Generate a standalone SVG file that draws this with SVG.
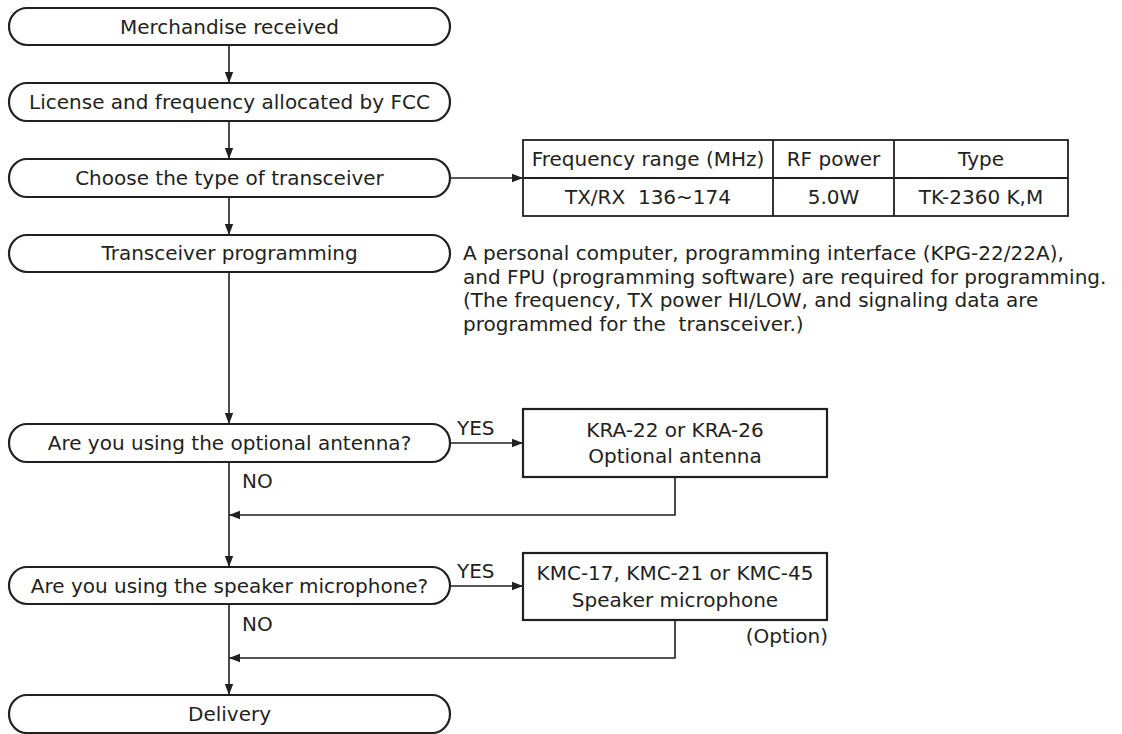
<svg xmlns="http://www.w3.org/2000/svg" width="1122" height="734" viewBox="0 0 1122 734">
<style>
text{font-family:"DejaVu Sans","Liberation Sans",sans-serif;font-size:20px;fill:#231f20}
.c{text-anchor:middle}
.r{text-anchor:end}
.st{fill:#fff;stroke:#231f20;stroke-width:2.2}
.bx{fill:#fff;stroke:#231f20;stroke-width:2.2}
.tb{fill:none;stroke:#231f20;stroke-width:1.8}
.ln{fill:none;stroke:#231f20;stroke-width:1.6}
</style>
<defs>
<marker id="ah" markerUnits="userSpaceOnUse" markerWidth="12" markerHeight="10" viewBox="0 0 12 10" refX="11" refY="5" orient="auto">
<path d="M0,0.8 L11,5 L0,9.2 Z" fill="#231f20"/>
</marker>
</defs>
<rect width="1122" height="734" fill="#fff"/>
<g id="connectors">
<line class="ln" x1="229" y1="45" x2="229" y2="83" marker-end="url(#ah)"/>
<line class="ln" x1="229" y1="121" x2="229" y2="159" marker-end="url(#ah)"/>
<line class="ln" x1="229" y1="197" x2="229" y2="235" marker-end="url(#ah)"/>
<line class="ln" x1="451" y1="178" x2="523" y2="178" marker-end="url(#ah)"/>
<line class="ln" x1="229" y1="272" x2="229" y2="424" marker-end="url(#ah)"/>
<line class="ln" x1="451" y1="443" x2="523" y2="443" marker-end="url(#ah)"/>
<line class="ln" x1="229" y1="462" x2="229" y2="567" marker-end="url(#ah)"/>
<polyline class="ln" points="675,477 675,515 229,515" marker-end="url(#ah)"/>
<line class="ln" x1="451" y1="586" x2="523" y2="586" marker-end="url(#ah)"/>
<line class="ln" x1="229" y1="604" x2="229" y2="695" marker-end="url(#ah)"/>
<polyline class="ln" points="675,620 675,658 229,658" marker-end="url(#ah)"/>
<text x="457" y="435">YES</text>
<text x="242" y="488">NO</text>
<text x="457" y="578">YES</text>
<text x="242" y="631">NO</text>
</g>
<g id="n1"><rect class="st" x="9" y="8" width="441" height="37" rx="18" ry="18.5"/><text class="c" x="229.5" y="34">Merchandise received</text></g>
<g id="n2"><rect class="st" x="9" y="83" width="441" height="38" rx="18" ry="19"/><text class="c" x="229.5" y="109">License and frequency allocated by FCC</text></g>
<g id="n3"><rect class="st" x="9" y="159" width="441" height="38" rx="18" ry="19"/><text class="c" x="229.5" y="185">Choose the type of transceiver</text></g>
<g id="n4"><rect class="st" x="9" y="235" width="441" height="37" rx="18" ry="18.5"/><text class="c" x="229.5" y="260">Transceiver programming</text></g>
<g id="table">
<rect class="tb" x="523" y="140" width="545" height="76"/>
<line class="tb" x1="523" y1="178" x2="1068" y2="178"/>
<line class="tb" x1="773" y1="140" x2="773" y2="216"/>
<line class="tb" x1="894" y1="140" x2="894" y2="216"/>
<text class="c" x="648" y="166">Frequency range (MHz)</text>
<text class="c" x="833.5" y="166">RF power</text>
<text class="c" x="981" y="166">Type</text>
<text class="c" x="648" y="204" xml:space="preserve">TX/RX  136~174</text>
<text class="c" x="833.5" y="204">5.0W</text>
<text class="c" x="981" y="204">TK-2360 K,M</text>
</g>
<g id="note">
<text x="463" y="260">A personal computer, programming interface (KPG-22/22A),</text>
<text x="463" y="283.5">and FPU (programming software) are required for programming.</text>
<text x="463" y="307">(The frequency, TX power HI/LOW, and signaling data are</text>
<text x="463" y="330.5" xml:space="preserve">programmed for the  transceiver.)</text>
</g>
<g id="n5"><rect class="st" x="9" y="424" width="441" height="38" rx="18" ry="19"/><text class="c" x="229.5" y="450">Are you using the optional antenna?</text></g>
<g id="n6"><rect class="bx" x="523" y="409" width="304" height="68"/><text class="c" x="675" y="437">KRA-22 or KRA-26</text><text class="c" x="675" y="463">Optional antenna</text></g>
<g id="n7"><rect class="st" x="9" y="567" width="441" height="37" rx="18" ry="18.5"/><text class="c" x="229.5" y="593">Are you using the speaker microphone?</text></g>
<g id="n8"><rect class="bx" x="523" y="553" width="304" height="67"/><text class="c" x="675" y="580">KMC-17, KMC-21 or KMC-45</text><text class="c" x="675" y="607">Speaker microphone</text></g>
<text class="r" x="828" y="643">(Option)</text>
<g id="n9"><rect class="st" x="9" y="695" width="441" height="38" rx="18" ry="19"/><text class="c" x="229.5" y="721">Delivery</text></g>
</svg>
